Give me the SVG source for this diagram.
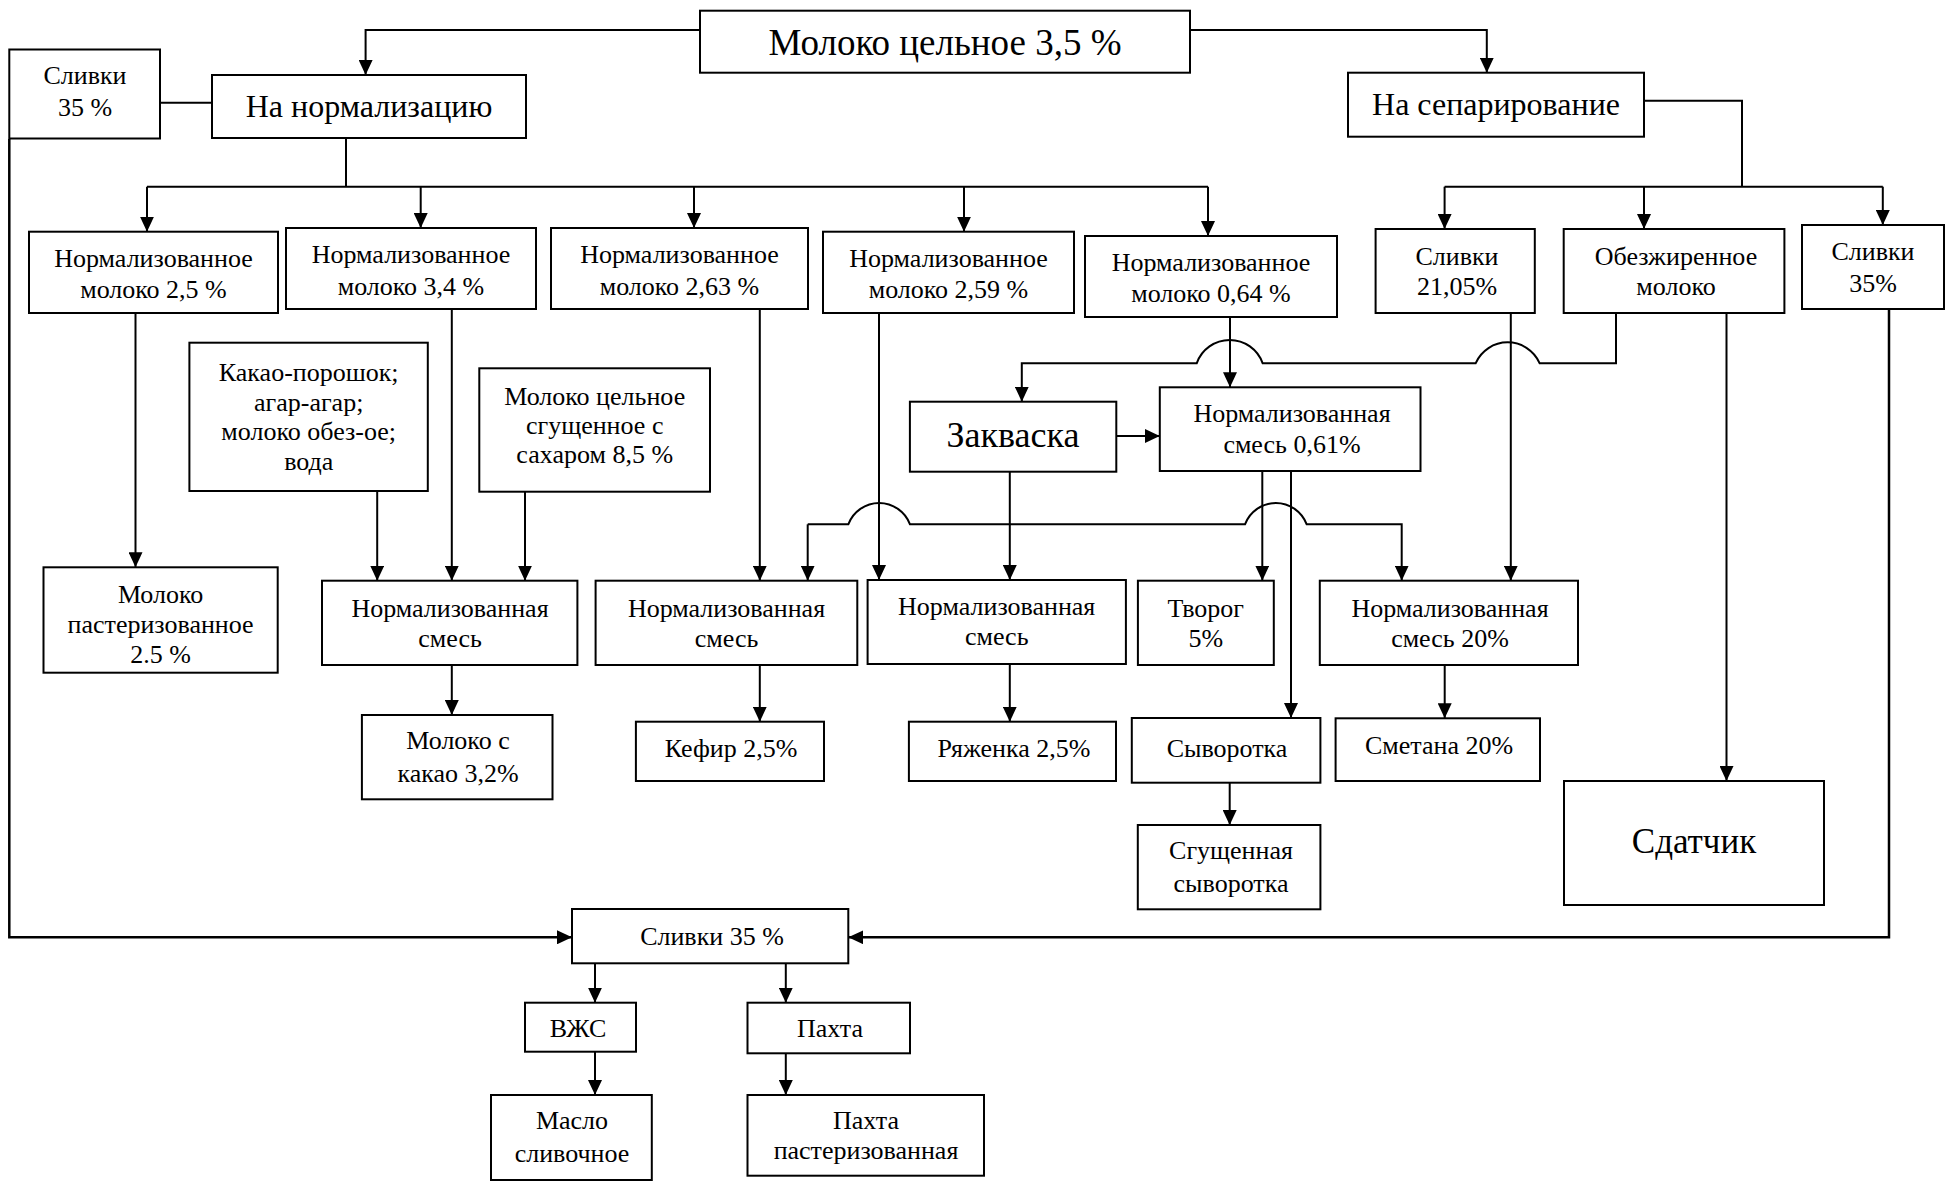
<svg xmlns="http://www.w3.org/2000/svg" width="1948" height="1184" viewBox="0 0 1948 1184">
<style>
.b{fill:#fff;stroke:#000;stroke-width:2}
.c{fill:none;stroke:#000;stroke-width:2}
.t{font-family:"Liberation Serif","Times New Roman",serif;font-size:26px;text-anchor:middle;fill:#000}
.a{marker-end:url(#ah)}
</style>
<defs>
<marker id="ah" markerUnits="userSpaceOnUse" markerWidth="16" markerHeight="14" refX="15" refY="7" orient="auto"><path d="M0,0 L15,7 L0,14 z" fill="#000"/></marker>
</defs>
<rect width="1948" height="1184" fill="#fff"/>
<g id="connectors">
<path class="c a" d="M700,30 H365.6 V75"/>
<path class="c a" d="M1190,30 H1486.8 V72.7"/>
<path class="c" d="M160,102.7 H212"/>
<path class="c" d="M346,138 V186.7 M147,186.7 H1208"/>
<path class="c a" d="M147,186.7 V231.7"/>
<path class="c a" d="M420.7,186.7 V228"/>
<path class="c a" d="M694,186.7 V228"/>
<path class="c a" d="M964,186.7 V231.7"/>
<path class="c a" d="M1208,186.7 V236"/>
<path class="c" d="M1644,100.7 H1742 V186.7 M1444.6,186.7 H1882.8"/>
<path class="c a" d="M1444.6,186.7 V229"/>
<path class="c a" d="M1644,186.7 V229"/>
<path class="c a" d="M1882.8,186.7 V225"/>
<path class="c a" d="M135.5,313 V567.3"/>
<path class="c a" d="M451.8,309 V580.7"/>
<path class="c a" d="M377.2,491 V580.7"/>
<path class="c a" d="M525,491.7 V580.7"/>
<path class="c a" d="M451.8,665 V715"/>
<path class="c a" d="M759.8,309 V580.7"/>
<path class="c a" d="M879,313 V580"/>
<path class="c a" d="M1009.8,471.7 V580"/>
<path class="c a" d="M1116.3,436 H1159.8"/>
<path class="c a" d="M1616,313 V363.3 H1539.7 A35,35 0 0 0 1475.6,363.3 H1262.7 A35,35 0 0 0 1196.7,363.3 H1021.8 V401.7"/>
<path class="c a" d="M1230,317 V387.3"/>
<path class="c a" d="M1510.8,313 V580.7"/>
<path class="c a" d="M1262.3,471 V580.7"/>
<path class="c a" d="M1291,471 V718"/>
<path class="c a" d="M807.7,524.3 V580.7"/>
<path class="c a" d="M807.7,524.3 H848.3 A33,33 0 0 1 910,524.3 H1245 A33,33 0 0 1 1306.7,524.3 H1401.7 V580.7"/>
<path class="c a" d="M759.8,665 V721.7"/>
<path class="c a" d="M1009.8,664 V721.7"/>
<path class="c a" d="M1444.7,665 V718.3"/>
<path class="c a" d="M1229.7,782.7 V825"/>
<path class="c a" d="M1726.5,313 V781"/>
<path class="c a" style="stroke-width:2.5" d="M1889,309 V937.3 H848.3"/>
<path class="c a" style="stroke-width:2.5" d="M9.3,139 V937.3 H572"/>
<path class="c a" d="M595,963.3 V1002.7"/>
<path class="c a" d="M785.8,963.3 V1002.7"/>
<path class="c a" d="M595,1051.7 V1095"/>
<path class="c a" d="M785.8,1053.3 V1095"/>
</g>
<g id="main"><rect class="b" x="700" y="10.7" width="490" height="62"/><text class="t" x="945" y="55" style="font-size:37px">Молоко цельное 3,5 %</text></g>
<g id="slivki35_tl"><rect class="b" x="9.3" y="49.5" width="150.7" height="89"/><text class="t" x="85" y="84">Сливки</text><text class="t" x="85" y="116">35 %</text></g>
<g id="na_norm"><rect class="b" x="212" y="75" width="314" height="63"/><text class="t" x="369" y="116.7" style="font-size:32px">На нормализацию</text></g>
<g id="na_sep"><rect class="b" x="1348" y="72.7" width="296" height="64"/><text class="t" x="1496" y="115" style="font-size:32px">На сепарирование</text></g>
<g id="nm25"><rect class="b" x="29" y="231.7" width="249" height="81.3"/><text class="t" x="153.5" y="266.7">Нормализованное</text><text class="t" x="153.5" y="297.7">молоко 2,5 %</text></g>
<g id="nm34"><rect class="b" x="286" y="228" width="250" height="81"/><text class="t" x="411" y="263.3">Нормализованное</text><text class="t" x="411" y="295">молоко 3,4 %</text></g>
<g id="nm263"><rect class="b" x="551" y="228" width="257" height="81"/><text class="t" x="679.5" y="263.3">Нормализованное</text><text class="t" x="679.5" y="295">молоко 2,63 %</text></g>
<g id="nm259"><rect class="b" x="823" y="231.7" width="251" height="81.3"/><text class="t" x="948.5" y="266.7">Нормализованное</text><text class="t" x="948.5" y="297.7">молоко 2,59 %</text></g>
<g id="nm064"><rect class="b" x="1085" y="236" width="252" height="81"/><text class="t" x="1211" y="270.7">Нормализованное</text><text class="t" x="1211" y="301.7">молоко 0,64 %</text></g>
<g id="sl2105"><rect class="b" x="1375.6" y="229" width="159.2" height="84"/><text class="t" x="1457" y="265">Сливки</text><text class="t" x="1457" y="295">21,05%</text></g>
<g id="obezh"><rect class="b" x="1563.7" y="229" width="220.7" height="84"/><text class="t" x="1676" y="265">Обезжиренное</text><text class="t" x="1676" y="295">молоко</text></g>
<g id="sl35r"><rect class="b" x="1802" y="225" width="142" height="84"/><text class="t" x="1873" y="260">Сливки</text><text class="t" x="1873" y="291.7">35%</text></g>
<g id="kakao"><rect class="b" x="189.4" y="342.7" width="238.4" height="148.3"/><text class="t" x="308.7" y="381">Какао-порошок;</text><text class="t" x="308.7" y="410.5">агар-агар;</text><text class="t" x="308.7" y="440">молоко обез-ое;</text><text class="t" x="308.7" y="469.5">вода</text></g>
<g id="sgusch"><rect class="b" x="479.3" y="368.3" width="230.7" height="123.4"/><text class="t" x="594.7" y="405">Молоко цельное</text><text class="t" x="594.7" y="434">сгущенное с</text><text class="t" x="594.7" y="463">сахаром 8,5 %</text></g>
<g id="zakvaska"><rect class="b" x="909.9" y="401.7" width="206.4" height="70"/><text class="t" x="1013" y="446.7" style="font-size:36px">Закваска</text></g>
<g id="nsm061"><rect class="b" x="1159.8" y="387.3" width="260.7" height="83.7"/><text class="t" x="1292" y="421.7">Нормализованная</text><text class="t" x="1292" y="453.3">смесь 0,61%</text></g>
<g id="mpast"><rect class="b" x="43.5" y="567.3" width="234.2" height="105.4"/><text class="t" x="160.6" y="603">Молоко</text><text class="t" x="160.6" y="633.3">пастеризованное</text><text class="t" x="160.6" y="663.3">2.5 %</text></g>
<g id="ns1"><rect class="b" x="322" y="580.7" width="255.4" height="84.3"/><text class="t" x="450" y="616.7">Нормализованная</text><text class="t" x="450" y="646.7">смесь</text></g>
<g id="ns2"><rect class="b" x="595.6" y="580.7" width="261.7" height="84.3"/><text class="t" x="726.5" y="616.7">Нормализованная</text><text class="t" x="726.5" y="646.7">смесь</text></g>
<g id="ns3"><rect class="b" x="867.6" y="580" width="258.3" height="84"/><text class="t" x="996.7" y="615">Нормализованная</text><text class="t" x="996.7" y="645">смесь</text></g>
<g id="tvorog"><rect class="b" x="1137.9" y="580.7" width="135.9" height="84.3"/><text class="t" x="1205.8" y="616.7">Творог</text><text class="t" x="1205.8" y="646.7">5%</text></g>
<g id="ns20"><rect class="b" x="1319.8" y="580.7" width="258.2" height="84.3"/><text class="t" x="1450" y="616.7">Нормализованная</text><text class="t" x="1450" y="646.7">смесь 20%</text></g>
<g id="mkakao"><rect class="b" x="361.9" y="715" width="190.6" height="84.3"/><text class="t" x="458" y="749.3">Молоко с</text><text class="t" x="458" y="781.7">какао 3,2%</text></g>
<g id="kefir"><rect class="b" x="635.9" y="721.7" width="188.1" height="59.3"/><text class="t" x="731" y="756.7">Кефир 2,5%</text></g>
<g id="ryazh"><rect class="b" x="908.9" y="721.7" width="207.1" height="59.3"/><text class="t" x="1014" y="756.7">Ряженка 2,5%</text></g>
<g id="syv"><rect class="b" x="1131.8" y="718" width="188.6" height="64.7"/><text class="t" x="1227" y="756.7">Сыворотка</text></g>
<g id="smetana"><rect class="b" x="1335.6" y="718.3" width="204.4" height="62.7"/><text class="t" x="1439" y="754">Сметана 20%</text></g>
<g id="sgsyv"><rect class="b" x="1137.8" y="825" width="182.6" height="84.3"/><text class="t" x="1231" y="859.3">Сгущенная</text><text class="t" x="1231" y="891.7">сыворотка</text></g>
<g id="sdatchik"><rect class="b" x="1564" y="781" width="260" height="124"/><text class="t" x="1694" y="853.3" style="font-size:35px">Сдатчик</text></g>
<g id="sl35b"><rect class="b" x="572" y="909" width="276.3" height="54.3"/><text class="t" x="712" y="945">Сливки 35 %</text></g>
<g id="vzhs"><rect class="b" x="525" y="1002.7" width="111" height="49"/><text class="t" x="578" y="1036.7">ВЖС</text></g>
<g id="pakhta"><rect class="b" x="747.5" y="1002.7" width="162.5" height="50.6"/><text class="t" x="830" y="1036.7">Пахта</text></g>
<g id="maslo"><rect class="b" x="491" y="1095" width="160.8" height="85"/><text class="t" x="572" y="1129.3">Масло</text><text class="t" x="572" y="1161.7">сливочное</text></g>
<g id="pakhta_p"><rect class="b" x="747.5" y="1095" width="236.5" height="80.7"/><text class="t" x="866" y="1129.3">Пахта</text><text class="t" x="866" y="1159.3">пастеризованная</text></g>
</svg>
